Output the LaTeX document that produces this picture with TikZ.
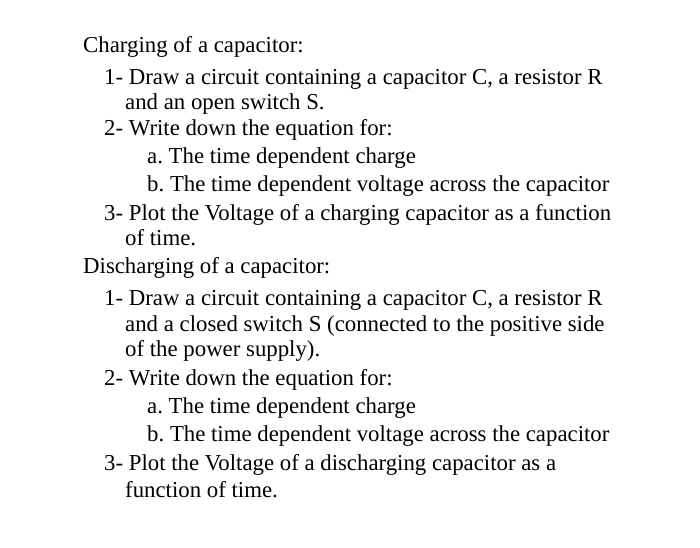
\documentclass[tikz,border=0pt]{standalone}
\usepackage{fontspec}
\setmainfont{Liberation Serif}
\frenchspacing
\begin{document}
\begin{tikzpicture}[x=1pt,y=-1pt,line/.style={anchor=mid west,inner sep=0pt,font=\fontsize{22.8}{26}\selectfont}]
\useasboundingbox (0,0) rectangle (700,547);
\node[line] (t1) at (83,50) {Charging of a capacitor:};
\node[line] (c1) at (104,82) {1- Draw a circuit containing a capacitor C, a resistor R};
\node[line] (c1b) at (125,107) {and an open switch S.};
\node[line] (c2) at (104,133) {2- Write down the equation for:};
\node[line] (c2a) at (147,161) {a. The time dependent charge};
\node[line] (c2b) at (147,189) {b. The time dependent voltage across the capacitor};
\node[line] (c3) at (104,218) {3- Plot the Voltage of a charging capacitor as a function};
\node[line] (c3b) at (125,243) {of time.};
\node[line] (t2) at (83,271) {Discharging of a capacitor:};
\node[line] (d1) at (104,303) {1- Draw a circuit containing a capacitor C, a resistor R};
\node[line] (d1b) at (125,329) {and a closed switch S (connected to the positive side};
\node[line] (d1c) at (125,354) {of the power supply).};
\node[line] (d2) at (104,383) {2- Write down the equation for:};
\node[line] (d2a) at (147,411) {a. The time dependent charge};
\node[line] (d2b) at (147,439) {b. The time dependent voltage across the capacitor};
\node[line] (d3) at (104,468) {3- Plot the Voltage of a discharging capacitor as a};
\node[line] (d3b) at (125,495) {function of time.};
\end{tikzpicture}
\end{document}
